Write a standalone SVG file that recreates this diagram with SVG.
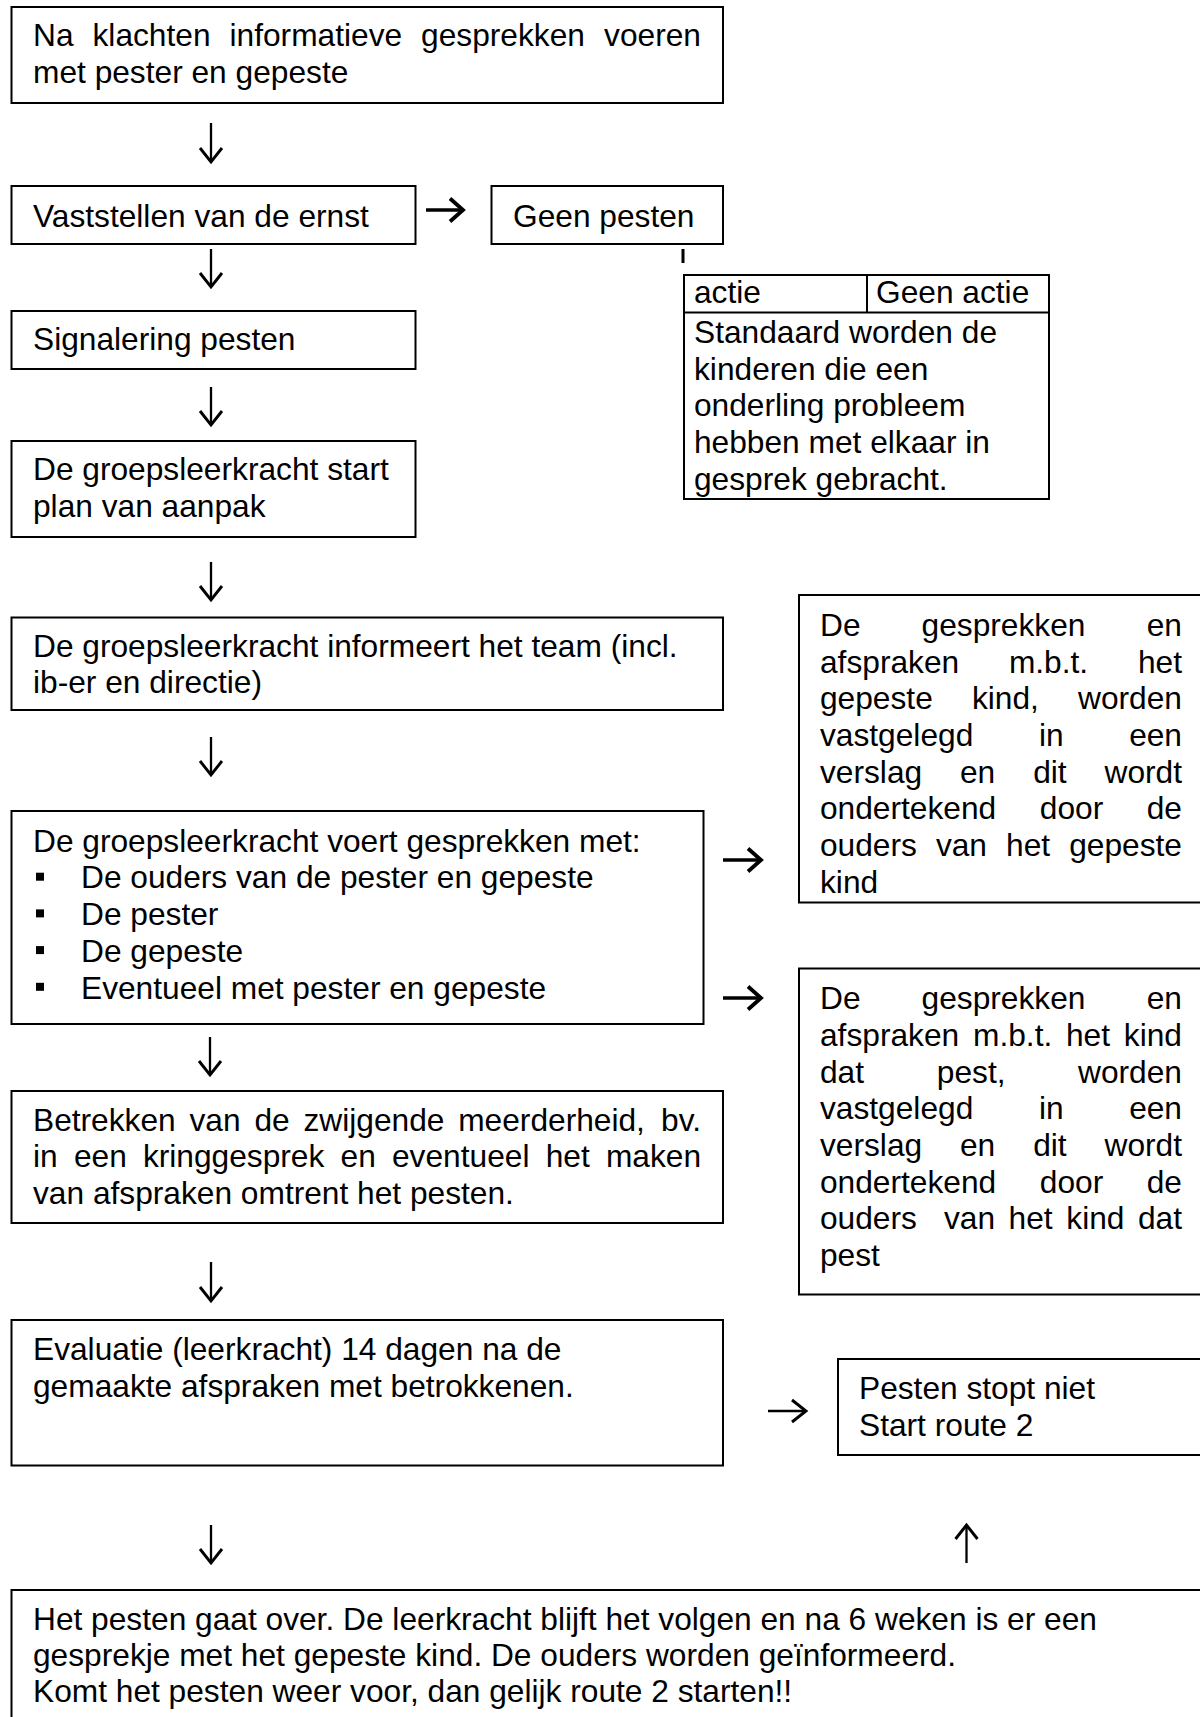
<svg xmlns="http://www.w3.org/2000/svg" width="1200" height="1717" viewBox="0 0 1200 1717">
<style>
.bg{fill:#fff}
.box{fill:#fff;stroke:#000;stroke-width:2}
.ln{stroke:#000;stroke-width:2;fill:none}
.t{font-family:"Liberation Sans",Arial,sans-serif;font-size:31.7px;fill:#000}
.e{text-anchor:end}
.arr{stroke:#000;stroke-width:2.3;fill:none}
.arrb{stroke:#000;stroke-width:3.6;fill:none}
</style>
<defs>
<marker id="ah" viewBox="0 0 18 24" refX="15" refY="11.5" markerWidth="18" markerHeight="24" markerUnits="userSpaceOnUse" orient="auto" overflow="visible">
<path d="M1,0.5 L15,11.5 L1,22.5" fill="none" stroke="#000" stroke-width="2.9"/>
</marker>
<marker id="ahb" viewBox="0 0 18 26" refX="14" refY="11.5" markerWidth="18" markerHeight="26" markerUnits="userSpaceOnUse" orient="auto" overflow="visible">
<path d="M1,0 L14,11.5 L1,23" fill="none" stroke="#000" stroke-width="3.8"/>
</marker>
</defs>
<rect class="bg" x="0" y="0" width="1200" height="1717"/>

<g id="connectors">
<line class="arr" x1="211" y1="123" x2="211" y2="162" marker-end="url(#ah)"/>
<line class="arrb" x1="426" y1="210" x2="463" y2="210" marker-end="url(#ahb)"/>
<rect x="681.5" y="249" width="3" height="14" fill="#000"/>
<line class="arr" x1="211" y1="249" x2="211" y2="287" marker-end="url(#ah)"/>
<line class="arr" x1="211" y1="387" x2="211" y2="425" marker-end="url(#ah)"/>
<line class="arr" x1="211" y1="562" x2="211" y2="600" marker-end="url(#ah)"/>
<line class="arr" x1="211" y1="737" x2="211" y2="775" marker-end="url(#ah)"/>
<line class="arrb" x1="723" y1="860" x2="761" y2="860" marker-end="url(#ahb)"/>
<line class="arrb" x1="723" y1="998" x2="761" y2="998" marker-end="url(#ahb)"/>
<line class="arr" x1="210" y1="1037" x2="210" y2="1075" marker-end="url(#ah)"/>
<line class="arr" x1="211" y1="1262" x2="211" y2="1301" marker-end="url(#ah)"/>
<line class="arr" x1="768" y1="1411" x2="806" y2="1411" marker-end="url(#ah)"/>
<line class="arr" x1="211" y1="1525" x2="211" y2="1563" marker-end="url(#ah)"/>
<line class="arr" x1="966.5" y1="1563" x2="966.5" y2="1525" marker-end="url(#ah)"/>
</g>

<g id="n-klachten">
<rect class="box" x="11.5" y="7" width="711.5" height="96"/>
<text class="t" y="46"><tspan x="33">Na</tspan><tspan x="92.5">klachten</tspan><tspan x="229.5">informatieve</tspan><tspan x="421.1">gesprekken</tspan><tspan x="701" class="e">voeren</tspan></text>
<text class="t" x="33" y="83">met pester en gepeste</text>
</g>

<g id="n-vaststellen">
<rect class="box" x="11.5" y="186" width="404" height="58"/>
<text class="t" x="33" y="227">Vaststellen van de ernst</text>
</g>

<g id="n-geen-pesten">
<rect class="box" x="491.5" y="186" width="231.5" height="58"/>
<text class="t" x="513" y="227">Geen pesten</text>
</g>

<g id="n-actie-tabel">
<rect class="box" x="684" y="275" width="365" height="224"/>
<line class="ln" x1="684" y1="312.5" x2="1049" y2="312.5"/>
<line class="ln" x1="867" y1="275" x2="867" y2="312.5"/>
<text class="t" x="694" y="303">actie</text>
<text class="t" x="876" y="303">Geen actie</text>
<text class="t" x="694" y="343">Standaard worden de</text>
<text class="t" x="694" y="379.7">kinderen die een</text>
<text class="t" x="694" y="416.3">onderling probleem</text>
<text class="t" x="694" y="453">hebben met elkaar in</text>
<text class="t" x="694" y="489.6">gesprek gebracht.</text>
</g>

<g id="n-signalering">
<rect class="box" x="11.5" y="311" width="404" height="58"/>
<text class="t" x="33" y="350">Signalering pesten</text>
</g>

<g id="n-start-plan">
<rect class="box" x="11.5" y="441" width="404" height="96"/>
<text class="t" x="33" y="480">De groepsleerkracht start</text>
<text class="t" x="33" y="516.7">plan van aanpak</text>
</g>

<g id="n-informeert">
<rect class="box" x="11.5" y="617.5" width="711.5" height="92.5"/>
<text class="t" x="33" y="656.5">De groepsleerkracht informeert het team (incl.</text>
<text class="t" x="33" y="692.5">ib-er en directie)</text>
</g>

<g id="n-voert">
<rect class="box" x="11.5" y="811" width="692" height="213"/>
<text class="t" x="33" y="851.7">De groepsleerkracht voert gesprekken met:</text>
<rect x="36" y="872.7" width="8" height="8" fill="#000"/>
<text class="t" x="81" y="888.4">De ouders van de pester en gepeste</text>
<rect x="36" y="909.4" width="8" height="8" fill="#000"/>
<text class="t" x="81" y="925.1">De pester</text>
<rect x="36" y="946.1" width="8" height="8" fill="#000"/>
<text class="t" x="81" y="961.8">De gepeste</text>
<rect x="36" y="982.8" width="8" height="8" fill="#000"/>
<text class="t" x="81" y="998.5">Eventueel met pester en gepeste</text>
</g>

<g id="n-verslag-gepeste">
<rect class="box" x="799" y="595" width="404" height="307.5"/>
<text class="t" y="636"><tspan x="820">De</tspan><tspan x="921.6">gesprekken</tspan><tspan x="1182" class="e">en</tspan></text>
<text class="t" y="672.7"><tspan x="820">afspraken</tspan><tspan x="1008.9">m.b.t.</tspan><tspan x="1182" class="e">het</tspan></text>
<text class="t" y="709.3"><tspan x="820">gepeste</tspan><tspan x="971.9">kind,</tspan><tspan x="1182" class="e">worden</tspan></text>
<text class="t" y="746"><tspan x="820">vastgelegd</tspan><tspan x="1038.9">in</tspan><tspan x="1182" class="e">een</tspan></text>
<text class="t" y="782.7"><tspan x="820">verslag</tspan><tspan x="960">en</tspan><tspan x="1033.2">dit</tspan><tspan x="1182" class="e">wordt</tspan></text>
<text class="t" y="819.3"><tspan x="820">ondertekend</tspan><tspan x="1039.8">door</tspan><tspan x="1182" class="e">de</tspan></text>
<text class="t" y="856"><tspan x="820">ouders</tspan><tspan x="935.9">van</tspan><tspan x="1006.1">het</tspan><tspan x="1182" class="e">gepeste</tspan></text>
<text class="t" x="820" y="892.7">kind</text>
</g>

<g id="n-verslag-pester">
<rect class="box" x="799" y="968.5" width="404" height="326"/>
<text class="t" y="1009.3"><tspan x="820">De</tspan><tspan x="921.6">gesprekken</tspan><tspan x="1182" class="e">en</tspan></text>
<text class="t" y="1046"><tspan x="820">afspraken</tspan><tspan x="973">m.b.t.</tspan><tspan x="1066">het</tspan><tspan x="1182" class="e">kind</tspan></text>
<text class="t" y="1082.7"><tspan x="820">dat</tspan><tspan x="936.8">pest,</tspan><tspan x="1182" class="e">worden</tspan></text>
<text class="t" y="1119.3"><tspan x="820">vastgelegd</tspan><tspan x="1038.9">in</tspan><tspan x="1182" class="e">een</tspan></text>
<text class="t" y="1156"><tspan x="820">verslag</tspan><tspan x="960">en</tspan><tspan x="1033.2">dit</tspan><tspan x="1182" class="e">wordt</tspan></text>
<text class="t" y="1192.7"><tspan x="820">ondertekend</tspan><tspan x="1039.8">door</tspan><tspan x="1182" class="e">de</tspan></text>
<text class="t" y="1229.3"><tspan x="820">ouders</tspan><tspan x="944">van</tspan><tspan x="1008.6">het</tspan><tspan x="1066.3">kind</tspan><tspan x="1182" class="e">dat</tspan></text>
<text class="t" x="820" y="1266.3">pest</text>
</g>

<g id="n-betrekken">
<rect class="box" x="11.5" y="1091" width="711.5" height="132"/>
<text class="t" y="1130.7"><tspan x="33">Betrekken</tspan><tspan x="189.5">van</tspan><tspan x="254.4">de</tspan><tspan x="303.5">zwijgende</tspan><tspan x="458.2">meerderheid,</tspan><tspan x="701" class="e">bv.</tspan></text>
<text class="t" y="1167.3"><tspan x="33">in</tspan><tspan x="73.9">een</tspan><tspan x="142.9">kringgesprek</tspan><tspan x="340.6">en</tspan><tspan x="392">eventueel</tspan><tspan x="545.7">het</tspan><tspan x="701" class="e">maken</tspan></text>
<text class="t" x="33" y="1203.7">van afspraken omtrent het pesten.</text>
</g>

<g id="n-evaluatie">
<rect class="box" x="11.5" y="1320" width="711.5" height="145.5"/>
<text class="t" x="33" y="1360">Evaluatie (leerkracht) 14 dagen na de</text>
<text class="t" x="33" y="1396.5">gemaakte afspraken met betrokkenen.</text>
</g>

<g id="n-pesten-stopt-niet">
<rect class="box" x="838" y="1359" width="365" height="96"/>
<text class="t" x="859" y="1399.3">Pesten stopt niet</text>
<text class="t" x="859" y="1436">Start route 2</text>
</g>

<g id="n-pesten-gaat-over">
<rect class="box" x="11.5" y="1590" width="1192" height="140"/>
<text class="t" x="33" y="1630">Het pesten gaat over. De leerkracht blijft het volgen en na 6 weken is er een</text>
<text class="t" x="33" y="1665.5">gesprekje met het gepeste kind. De ouders worden geïnformeerd.</text>
<text class="t" x="33" y="1701.5">Komt het pesten weer voor, dan gelijk route 2 starten!!</text>
</g>
</svg>
